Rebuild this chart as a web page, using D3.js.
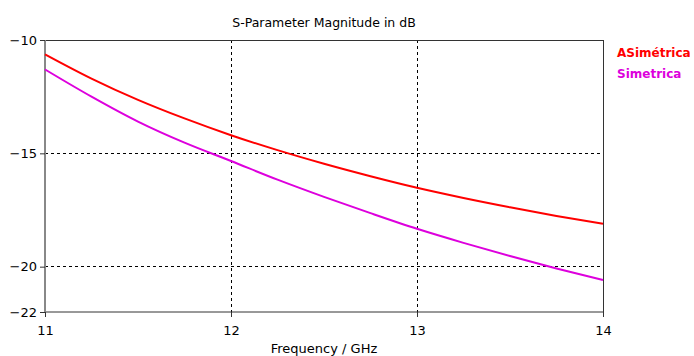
<!DOCTYPE html>
<html lang="en">
<head>
<meta charset="utf-8">
<title>S-Parameter Magnitude in dB</title>
<script src="https://d3js.org/d3.v7.min.js"></script>
<style>
  body { margin: 0; background: #fff; }
  text { font-family: "DejaVu Sans", sans-serif; }
</style>
</head>
<body>
<script>
// frequencies (GHz) and magnitudes (dB)
var freqs = [11, 11.25, 11.5, 11.75, 12, 12.25, 12.5, 12.75, 13, 13.25, 13.5, 13.75, 14];
var asimetrica = [-10.63, -11.70, -12.64, -13.46, -14.20, -14.86, -15.46, -16.01, -16.52, -16.97, -17.38, -17.76, -18.11];
var simetrica = [-11.30, -12.50, -13.60, -14.53, -15.34, -16.16, -16.92, -17.64, -18.33, -18.95, -19.53, -20.08, -20.59];
var xTicks = [11, 12, 13, 14];
var yTicks = [-10, -15, -20, -22];
var seriesNames = ["ASimétrica", "Simetrica"];
var seriesColors = ["#ff0000", "#dd00dd"];

var width = 694, height = 356;
var margin = {top: 40, right: 91, bottom: 44, left: 45};

var svg = d3.select("body").append("svg")
    .attr("width", width)
    .attr("height", height);

var x = d3.scaleLinear().domain([11, 14]).range([margin.left, width - margin.right]);
var y = d3.scaleLinear().domain([-22, -10]).range([height - margin.bottom, margin.top]);

// grid
svg.append("g").selectAll("line")
    .data([12, 13])
    .enter().append("line")
    .attr("x1", function(d) { return x(d); })
    .attr("x2", function(d) { return x(d); })
    .attr("y1", y(-10))
    .attr("y2", y(-22))
    .attr("stroke", "#000")
    .attr("stroke-dasharray", "3,3")
    .attr("shape-rendering", "crispEdges");

svg.append("g").selectAll("line")
    .data([-15, -20])
    .enter().append("line")
    .attr("x1", x(11))
    .attr("x2", x(14))
    .attr("y1", function(d) { return y(d); })
    .attr("y2", function(d) { return y(d); })
    .attr("stroke", "#000")
    .attr("stroke-dasharray", "3,3")
    .attr("shape-rendering", "crispEdges");

// frame top & right
svg.append("path")
    .attr("d", "M" + x(11) + "," + y(-10) + "H" + x(14) + "V" + y(-22))
    .attr("fill", "none")
    .attr("stroke", "#333")
    .attr("shape-rendering", "crispEdges");

// axes
var xAxis = svg.append("g")
    .attr("transform", "translate(0," + y(-22) + ")")
    .call(d3.axisBottom(x).tickValues(xTicks).tickFormat(d3.format("d")).tickSize(5).tickPadding(9));
var yAxis = svg.append("g")
    .attr("transform", "translate(" + x(11) + ",0)")
    .call(d3.axisLeft(y).tickValues(yTicks).tickFormat(d3.format("d")).tickSize(5).tickPadding(3));

xAxis.select(".domain").attr("stroke", "#333").attr("d", "M" + x(11) + ",0H" + x(14));
yAxis.select(".domain").attr("stroke", "#888").attr("stroke-width", 2).attr("d", "M0," + y(-10) + "V" + y(-22));
svg.selectAll(".tick line").attr("stroke", "#333");
svg.selectAll(".tick text")
    .attr("font-family", "DejaVu Sans, sans-serif")
    .attr("font-size", 13)
    .attr("fill", "#000");

// curves
var line = d3.line()
    .x(function(d) { return x(d[0]); })
    .y(function(d) { return y(d[1]); })
    .curve(d3.curveMonotoneX);

[asimetrica, simetrica].forEach(function(vals, i) {
    svg.append("path")
        .datum(freqs.map(function(f, j) { return [f, vals[j]]; }))
        .attr("d", line)
        .attr("fill", "none")
        .attr("stroke", seriesColors[i])
        .attr("stroke-width", 2);
});

// title and axis label
svg.append("text")
    .attr("x", x(12.5))
    .attr("y", 27)
    .attr("text-anchor", "middle")
    .attr("font-size", 12.5)
    .text("S-Parameter Magnitude in dB");

svg.append("text")
    .attr("x", x(12.5))
    .attr("y", 353)
    .attr("text-anchor", "middle")
    .attr("font-size", 13)
    .text("Frequency / GHz");

// legend
svg.append("g").selectAll("text")
    .data(seriesNames)
    .enter().append("text")
    .attr("x", 617)
    .attr("y", function(d, i) { return 57 + i * 21; })
    .attr("font-size", 12)
    .attr("font-weight", "bold")
    .attr("fill", function(d, i) { return seriesColors[i]; })
    .text(function(d) { return d; });
</script>
</body>
</html>
